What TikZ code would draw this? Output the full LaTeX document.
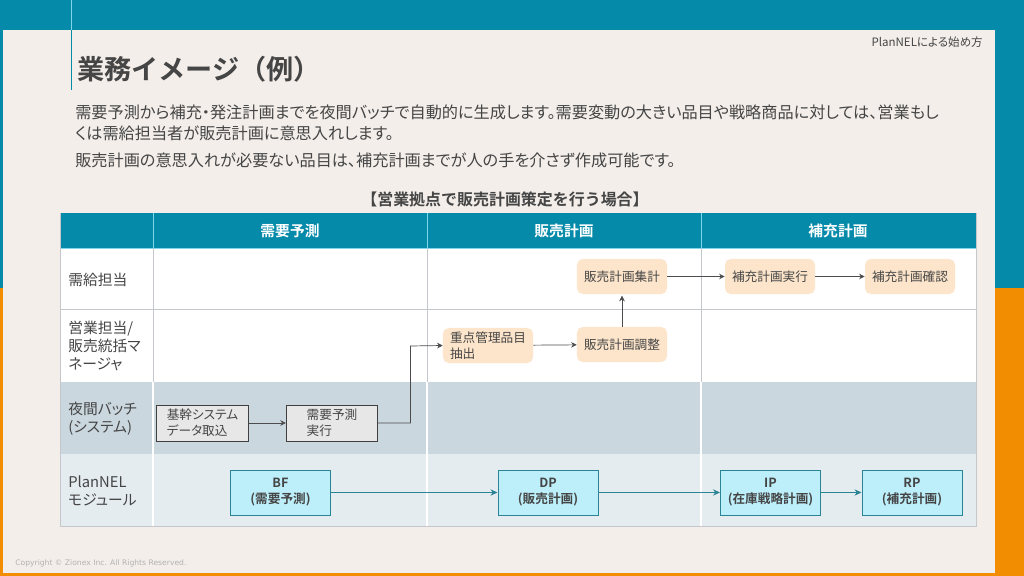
\documentclass[tikz,border=0pt]{standalone}
\usepackage{fontspec}
\setmainfont{Noto Sans CJK JP}[BoldFont={* Bold},RawFeature={+palt}]
\newfontfamily\fullfont{Noto Sans CJK JP}[BoldFont={* Bold}]
\newfontfamily\copyfont{DejaVu Sans}
\usepackage{xcolor}
\usetikzlibrary{arrows.meta,positioning,calc}
\definecolor{zxteal}{HTML}{058AA9}
\definecolor{zxorange}{HTML}{F28C00}
\definecolor{zxpanel}{HTML}{F3EEEA}
\definecolor{zxtext}{HTML}{454545}
\definecolor{zxgrid}{HTML}{C4C8CC}
\definecolor{zxhead}{HTML}{7FD6EA}
\definecolor{zxbandA}{HTML}{CAD7DF}
\definecolor{zxbandB}{HTML}{E5ECF0}
\definecolor{zxplan}{HTML}{FDE5CB}
\definecolor{zxbatch}{HTML}{E7E7E7}
\definecolor{zxmod}{HTML}{BDEFFB}
\definecolor{zxmodline}{HTML}{2A8496}
\tikzset{
    rowlabel/.style={anchor=west, align=left, text=zxtext, font=\fontsize{10.5}{13}\selectfont, inner sep=0pt},
    headlabel/.style={text=white, font=\fontsize{10.5}{13}\selectfont\bfseries, inner sep=0pt},
    bodyline/.style={anchor=west, text=zxtext, font=\fontsize{11.5}{13}\selectfont, inner sep=0pt},
    planbox/.style={fill=zxplan, rounded corners=4pt, text=zxtext, align=left, inner sep=0pt,
        minimum width=2.25cm, minimum height=0.875cm, font=\fontsize{9}{11.5}\selectfont},
    batchbox/.style={draw=black!75, fill=zxbatch, line width=0.7pt, text=zxtext, align=left, inner sep=0pt,
        minimum width=2.28cm, minimum height=0.9cm, font=\fontsize{9}{11.5}\selectfont},
    modbox/.style={draw=zxmodline, fill=zxmod, line width=0.7pt, text=zxtext, align=center, inner sep=0pt,
        minimum width=2.5cm, minimum height=1.125cm, font=\fontsize{9}{11.5}\selectfont\bfseries},
    flowarrow/.style={-{Stealth[length=4pt,width=4pt]}, draw=black!70, line width=0.5pt},
    modarrow/.style={-{Stealth[length=5pt,width=4.5pt]}, draw=zxmodline, line width=0.6pt},
}
\begin{document}
\begin{tikzpicture}[x=0.025cm, y=-0.025cm]
    \useasboundingbox (0,0) rectangle (1024,576);

    % Slide background
    \fill[zxteal] (0,0) rectangle (1024,288);
    \fill[zxorange] (0,288) rectangle (1024,576);
    \fill[zxpanel] (3,30) rectangle (995,573);
    \draw[zxhead, line width=0.5pt] (71,0) -- (71,30);
    \draw[zxteal, line width=0.5pt] (71,30) -- (71,90);

    % Headings
    \node[anchor=west, text=zxtext, font=\fullfont\fontsize{19.3}{22}\selectfont\bfseries, inner sep=0pt] (title) at (77,69) {業務イメージ（例）};
    \node[anchor=east, text=zxtext, font=\fontsize{8.2}{10}\selectfont, inner sep=0pt] (chapter) at (983,42) {PlanNELによる始め方};
    \node[bodyline] (lineA) at (75,112) {需要予測から補充・発注計画までを夜間バッチで自動的に生成します。需要変動の大きい品目や戦略商品に対しては、営業もし};
    \node[bodyline] (lineB) at (75,133) {くは需給担当者が販売計画に意思入れします。};
    \node[bodyline] (lineC) at (75,160) {販売計画の意思入れが必要ない品目は、補充計画までが人の手を介さず作成可能です。};
    \node[text=zxtext, font=\fullfont\fontsize{11.35}{13}\selectfont\bfseries, inner sep=0pt] (caption) at (505,199) {【営業拠点で販売計画策定を行う場合】};
    \node[anchor=west, text=black!30, font=\copyfont\fontsize{5.42}{6}\selectfont, inner sep=0pt] (copyright) at (15,563) {Copyright © Zionex Inc. All Rights Reserved.};

    % Table bands
    \fill[white] (60,248) rectangle (976,382);
    \fill[zxbandA] (60,382) rectangle (976,454);
    \fill[zxbandB] (60,454) rectangle (976,526);
    \fill[zxteal] (60,213) rectangle (976,248);

    % Table rules
    \draw[zxgrid, line width=0.6pt] (60,309) -- (976,309);
    \draw[zxhead, line width=0.6pt] (60,248) -- (976,248);
    \foreach \colx in {153,427,701} {
        \draw[zxhead, line width=0.6pt] (\colx,213) -- (\colx,248);
        \draw[zxgrid, line width=0.6pt] (\colx,248) -- (\colx,382);
        \draw[white, line width=0.8pt] (\colx,382) -- (\colx,526);
    }
    \draw[zxgrid, line width=0.6pt] (60,213) -- (60,526) -- (976,526) -- (976,213);

    % Column heads
    \node[headlabel] (headBF) at (290,231) {需要予測};
    \node[headlabel] (headDP) at (564,231) {販売計画};
    \node[headlabel] (headRP) at (838,231) {補充計画};

    % Row labels
    \node[rowlabel] (rowSupply) at (68,280) {需給担当};
    \node[rowlabel] (rowSales) at (68,346) {営業担当/\\販売統括マ\\ネージャ};
    \node[rowlabel] (rowBatch) at (68,419) {夜間バッチ\\(システム)};
    \node[rowlabel] (rowModule) at (68,491) {PlanNEL\\モジュール};

    % Planning tasks
    \node[planbox] (sumPlan) at (622,276.5) {販売計画集計};
    \node[planbox] (runRP) at (770,276.5) {補充計画実行};
    \node[planbox] (checkRP) at (910,276.5) {補充計画確認};
    \node[planbox] (keyItem) at (488,345.5) {重点管理品目\\抽出};
    \node[planbox] (adjPlan) at (622,344.5) {販売計画調整};

    % Night batch
    \node[batchbox] (loadData) at (202.5,423) {基幹システム\\データ取込};
    \node[batchbox] (runBF) at (332,423) {需要予測\\実行};
    \coordinate (bendUp) at (410.5,346);

    % Modules
    \node[modbox] (modBF) at (280.5,492.5) {BF\\(需要予測)};
    \node[modbox] (modDP) at (548,492.5) {DP\\(販売計画)};
    \node[modbox] (modIP) at (770.5,492.5) {IP\\(在庫戦略計画)};
    \node[modbox] (modRP) at (912,492.5) {RP\\(補充計画)};

    % Flow arrows
    \draw[flowarrow] (loadData) -- (runBF);
    \draw[flowarrow] (runBF.east) -| (bendUp) -- (keyItem.west);
    \draw[flowarrow] (keyItem) -- (adjPlan);
    \draw[flowarrow, shorten >=1pt] (adjPlan) -- (sumPlan);
    \draw[flowarrow] (sumPlan) -- (runRP);
    \draw[flowarrow] (runRP) -- (checkRP);

    % Module arrows
    \draw[modarrow] (modBF) -- (modDP);
    \draw[modarrow] (modDP) -- (modIP);
    \draw[modarrow] (modIP) -- (modRP);
\end{tikzpicture}
\end{document}
